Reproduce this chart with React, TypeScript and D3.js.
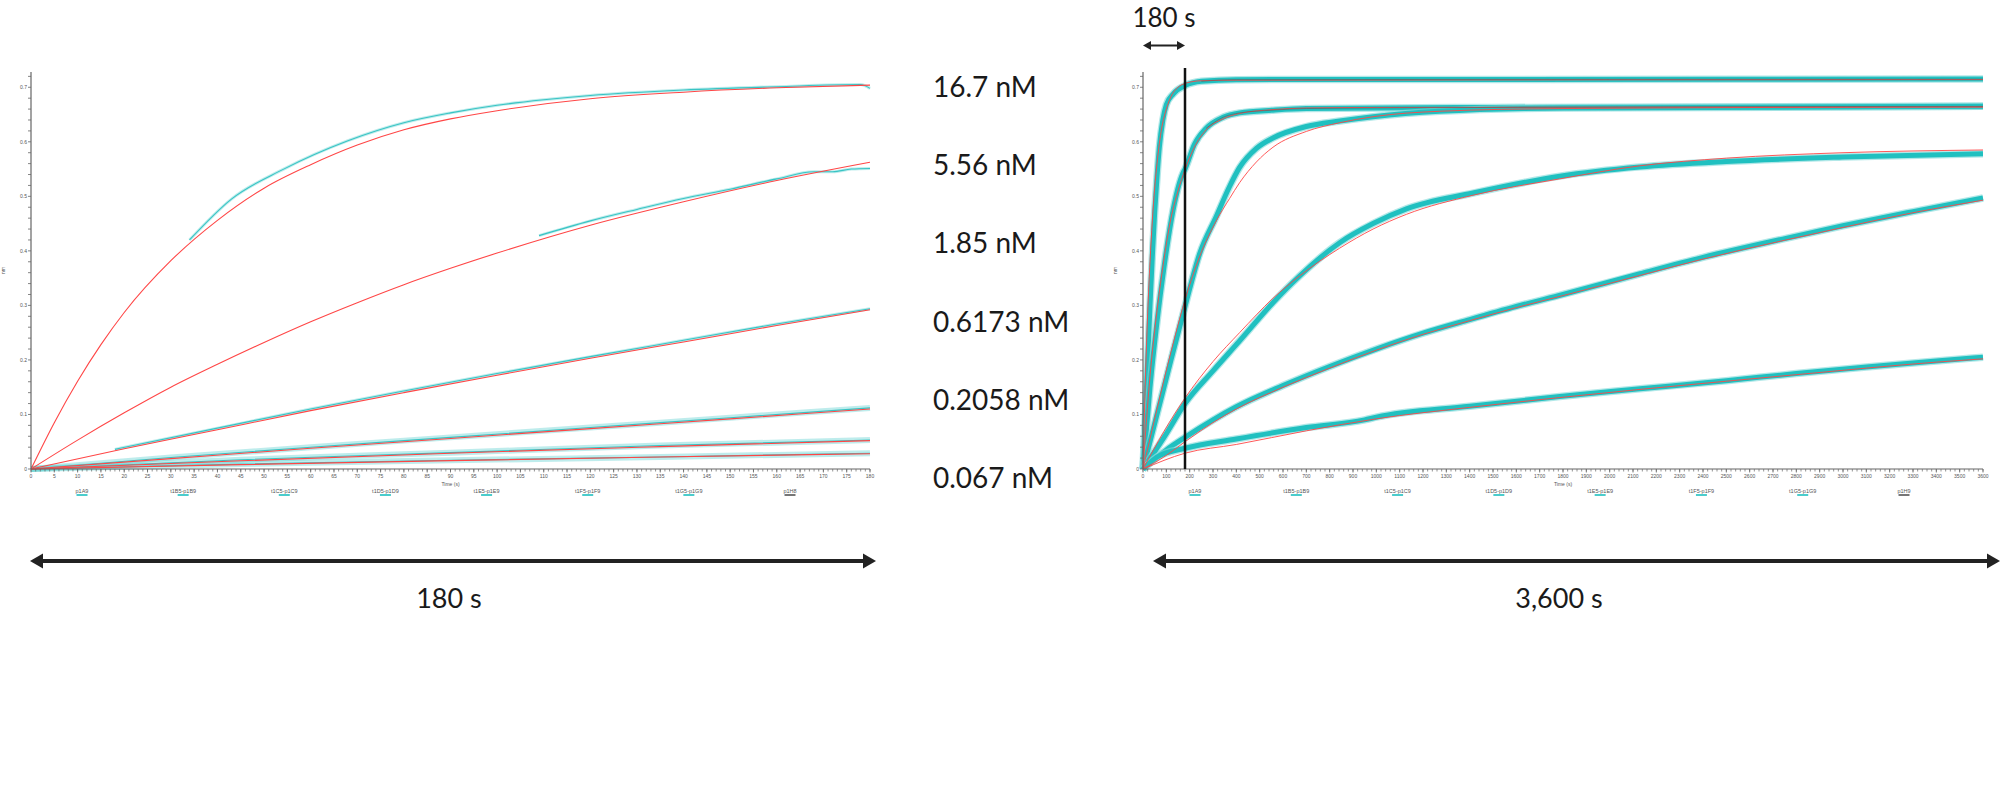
import * as d3 from "d3";

type Pt = [number, number];

// concentration labels, top to bottom
const concentrations = ["16.7 nM", "5.56 nM", "1.85 nM", "0.6173 nM", "0.2058 nM", "0.067 nM"];

const leftLegend = ["p1A9", "t1B5-p1B9", "t1C5-p1C9", "t1D5-p1D9", "t1E5-p1E9", "t1F5-p1F9", "t1G5-p1G9", "p1H8"];
const rightLegend = ["p1A9", "t1B5-p1B9", "t1C5-p1C9", "t1D5-p1D9", "t1E5-p1E9", "t1F5-p1F9", "t1G5-p1G9", "p1H9"];

const yTickValues = [0, 0.1, 0.2, 0.3, 0.4, 0.5, 0.6, 0.7];

// ---- left panel, 0–180 s : fitted curves (red) and measured traces (cyan)
const leftFit16: Pt[] = [[0, 0], [5, 0.085], [10, 0.161], [15, 0.228], [20, 0.287], [30, 0.382], [40, 0.456], [50, 0.515], [60, 0.558], [70, 0.594], [80, 0.622], [90, 0.642], [100, 0.657], [120, 0.679], [140, 0.691], [160, 0.699], [180, 0.704]];
const leftFit5: Pt[] = [[0, 0], [10, 0.053], [20, 0.103], [30, 0.15], [40, 0.192], [50, 0.232], [60, 0.27], [70, 0.305], [80, 0.338], [90, 0.368], [100, 0.396], [120, 0.447], [140, 0.49], [160, 0.529], [180, 0.5625]];
const leftFit1: Pt[] = [[0, 0], [20, 0.037], [40, 0.072], [60, 0.107], [80, 0.14], [100, 0.172], [120, 0.203], [140, 0.233], [160, 0.263], [180, 0.292]];
const leftFit06: Pt[] = [[0, 0], [30, 0.019], [60, 0.038], [90, 0.056], [120, 0.074], [150, 0.092], [180, 0.11]];
const leftFit02: Pt[] = [[0, 0], [45, 0.015], [90, 0.029], [135, 0.041], [180, 0.052]];
const leftFit007: Pt[] = [[0, 0], [45, 0.008], [90, 0.0153], [135, 0.022], [180, 0.028]];

const leftData16: Pt[] = [[34, 0.42], [43, 0.495], [54, 0.549], [68, 0.602], [80, 0.635], [90, 0.653], [100, 0.667], [110, 0.677], [120, 0.685], [140, 0.695], [160, 0.701], [178, 0.705], [180, 0.698]];
const leftData5: Pt[] = [[109, 0.428], [120, 0.455], [130, 0.476], [140, 0.496], [150, 0.513], [160, 0.532], [168, 0.545], [172, 0.545], [176, 0.55], [180, 0.551]];
const leftData1: Pt[] = [[18, 0.036], [40, 0.075], [60, 0.11], [80, 0.143], [100, 0.175], [120, 0.206], [140, 0.236], [160, 0.266], [180, 0.294]];
const leftData06: Pt[] = [[0, 0], [30, 0.021], [60, 0.04], [90, 0.058], [120, 0.076], [150, 0.094], [180, 0.112]];
const leftData02: Pt[] = [[0, 0], [45, 0.017], [90, 0.03], [135, 0.043], [180, 0.053]];
const leftData007: Pt[] = [[0, 0], [45, 0.009], [90, 0.016], [135, 0.022], [180, 0.029]];

// ---- right panel, 0–3600 s
const rightFit16: Pt[] = [[0, 0], [10, 0.16], [20, 0.285], [30, 0.38], [40, 0.455], [50, 0.515], [60, 0.56], [80, 0.625], [100, 0.66], [120, 0.683], [150, 0.7], [180, 0.707], [250, 0.712], [400, 0.713], [3600, 0.714]];
const rightFit5: Pt[] = [[0, 0], [30, 0.17], [60, 0.29], [90, 0.385], [120, 0.46], [150, 0.51], [180, 0.549], [220, 0.59], [271, 0.622], [343, 0.642], [414, 0.652], [557, 0.659], [700, 0.662], [1000, 0.663], [3600, 0.664]];
const rightFit1: Pt[] = [[0, 0], [60, 0.11], [120, 0.215], [180, 0.31], [243, 0.39], [314, 0.455], [371, 0.496], [414, 0.525], [486, 0.563], [557, 0.59], [700, 0.619], [843, 0.635], [986, 0.646], [1271, 0.656], [1800, 0.661], [3600, 0.664]];
const rightFit06: Pt[] = [[0, 0], [90, 0.069], [180, 0.13], [300, 0.197], [414, 0.25], [557, 0.313], [671, 0.354], [843, 0.405], [986, 0.44], [1129, 0.467], [1414, 0.502], [1786, 0.532], [2130, 0.556], [2500, 0.57], [3000, 0.58], [3600, 0.585]];
const rightFit02: Pt[] = [[0, 0], [100, 0.025], [180, 0.05], [300, 0.085], [400, 0.11], [600, 0.15], [800, 0.185], [1000, 0.218], [1200, 0.247], [1400, 0.272], [1600, 0.296], [1800, 0.318], [2130, 0.355], [2400, 0.385], [2755, 0.42], [3000, 0.443], [3300, 0.47], [3600, 0.493]];
const rightFit007: Pt[] = [[0, 0], [180, 0.029], [400, 0.045], [700, 0.07], [1000, 0.092], [1400, 0.113], [1786, 0.131], [2130, 0.146], [2500, 0.161], [2800, 0.173], [3100, 0.185], [3400, 0.196], [3600, 0.202]];

const rightData16: Pt[] = [[0, 0], [10, 0.1], [20, 0.2], [30, 0.3], [40, 0.39], [50, 0.47], [60, 0.535], [70, 0.59], [85, 0.64], [100, 0.668], [130, 0.688], [180, 0.703], [250, 0.711], [400, 0.714], [3600, 0.715]];
const rightData5: Pt[] = [[0, 0], [30, 0.15], [60, 0.27], [90, 0.37], [129, 0.475], [171, 0.5425], [180, 0.55], [220, 0.595], [271, 0.625], [343, 0.645], [414, 0.653], [557, 0.658], [700, 0.661], [1500, 0.663], [3600, 0.665]];
const rightData1: Pt[] = [[0, 0], [60, 0.1], [120, 0.2], [180, 0.298], [243, 0.395], [314, 0.463], [371, 0.518], [414, 0.553], [486, 0.588], [557, 0.607], [700, 0.628], [843, 0.638], [986, 0.646], [1271, 0.656], [1800, 0.662], [3600, 0.665]];
const rightData06: Pt[] = [[0, 0], [90, 0.058], [180, 0.12], [300, 0.18], [414, 0.235], [557, 0.305], [671, 0.354], [843, 0.415], [986, 0.45], [1129, 0.477], [1414, 0.506], [1786, 0.537], [2130, 0.554], [2500, 0.564], [3000, 0.572], [3600, 0.578]];
const rightData02: Pt[] = [[0, 0], [100, 0.035], [180, 0.058], [300, 0.09], [400, 0.114], [600, 0.153], [800, 0.188], [1000, 0.22], [1200, 0.249], [1400, 0.274], [1600, 0.298], [1800, 0.32], [2130, 0.358], [2400, 0.388], [2755, 0.423], [3000, 0.446], [3300, 0.472], [3600, 0.497]];
const rightData007: Pt[] = [[0, 0], [60, 0.022], [180, 0.038], [400, 0.055], [700, 0.076], [950, 0.09], [1000, 0.095], [1400, 0.115], [1786, 0.133], [2130, 0.147], [2500, 0.162], [2800, 0.175], [3100, 0.187], [3400, 0.198], [3600, 0.205]];

const leftFits = [leftFit16, leftFit5, leftFit1, leftFit06, leftFit02, leftFit007];
const leftData = [leftData16, leftData5, leftData1, leftData06, leftData02, leftData007];
const rightFits = [rightFit16, rightFit5, rightFit1, rightFit06, rightFit02, rightFit007];
const rightData = [rightData16, rightData5, rightData1, rightData06, rightData02, rightData007];

const CYAN = "#20c0c0";
const RED = "#ff4646";
const AXIS = "#666";
const TICK_FONT = "'Liberation Sans', Arial, sans-serif";
const BIG_FONT = "Lato, 'Open Sans', sans-serif";

const y = d3.scaleLinear().domain([0, 0.728]).range([469, 72]);
const xLeft = d3.scaleLinear().domain([0, 180]).range([31, 870]);
const xRight = d3.scaleLinear().domain([0, 3600]).range([1143, 1983]);

interface PanelProps {
  x: d3.ScaleLinear<number, number>;
  fits: Pt[][];
  data: Pt[][];
  minorStep: number;
  majorStep: number;
  legend: string[];
  legendRange: [number, number];
  thick: boolean;
}

function Panel({ x, fits, data, minorStep, majorStep, legend, legendRange, thick }: PanelProps) {
  const [d0, d1] = x.domain();
  const [r0, r1] = x.range();
  const line = d3
    .line<Pt>()
    .x((d) => x(d[0]))
    .y((d) => y(d[1]))
    .curve(d3.curveMonotoneX);
  const minorX = d3.range(d0, d1 + 1e-9, minorStep);
  const majorX = d3.range(d0, d1 + 1e-9, majorStep);
  const minorY = d3.range(0, 0.7201, 0.02);
  const legendX = d3.scaleLinear().domain([0, legend.length - 1]).range(legendRange);

  return (
    <g>
      {/* traces */}
      {data.map((pts, i) =>
        thick ? (
          <g key={"d" + i}>
            <path d={line(pts) ?? ""} fill="none" stroke="#7fd9d9" strokeOpacity={0.6} strokeWidth={7.5} strokeLinejoin="round" />
            <path d={line(pts) ?? ""} fill="none" stroke={CYAN} strokeWidth={5} strokeLinejoin="round" />
          </g>
        ) : (
          <g key={"d" + i}>
            <path d={line(pts) ?? ""} fill="none" stroke="#45c9c9" strokeOpacity={0.35} strokeWidth={i >= 3 ? 6 : 3} />
            <path d={line(pts) ?? ""} fill="none" stroke="#38c4c4" strokeWidth={1.1} />
          </g>
        )
      )}
      {fits.map((pts, i) => (
        <path key={"f" + i} d={line(pts) ?? ""} fill="none" stroke={RED} strokeWidth={thick ? 0.9 : 1.1} />
      ))}
      {thick &&
        data.slice(0, 2).map((pts, i) => (
          <path
            key={"g" + i}
            d={line(pts.filter((p) => p[0] >= 250)) ?? ""}
            fill="none"
            stroke="#4f5b5b"
            strokeOpacity={0.6}
            strokeWidth={0.9}
          />
        ))}

      {/* y axis */}
      <line x1={r0} x2={r0} y1={y(0.728)} y2={y(0)} stroke={AXIS} strokeWidth={1.2} />
      {minorY.map((v) => (
        <line key={"my" + v} x1={r0 - 3} x2={r0} y1={y(v)} y2={y(v)} stroke={AXIS} strokeWidth={0.8} />
      ))}
      {yTickValues.map((v) => (
        <text key={"ty" + v} x={r0 - 4} y={y(v) + 1.8} fontSize={5} fill="#555" textAnchor="end" fontFamily={TICK_FONT}>
          {v === 0 ? "0" : v.toFixed(1)}
        </text>
      ))}
      <text
        transform={`translate(${r0 - 26},${y(0.364)}) rotate(-90)`}
        fontSize={5}
        fill="#555"
        textAnchor="middle"
        fontFamily={TICK_FONT}
      >
        nm
      </text>

      {/* x axis */}
      <line x1={r0} x2={r1} y1={y(0)} y2={y(0)} stroke={AXIS} strokeWidth={1.2} />
      {minorX.map((t) => (
        <line key={"mx" + t} x1={x(t)} x2={x(t)} y1={y(0)} y2={y(0) + 2.5} stroke={AXIS} strokeWidth={0.7} />
      ))}
      {majorX.map((t) => (
        <g key={"tx" + t}>
          <line x1={x(t)} x2={x(t)} y1={y(0)} y2={y(0) + 3.5} stroke={AXIS} strokeWidth={0.8} />
          <text x={x(t)} y={y(0) + 9} fontSize={5} fill="#555" textAnchor="middle" fontFamily={TICK_FONT}>
            {t}
          </text>
        </g>
      ))}
      <text x={(r0 + r1) / 2} y={y(0) + 17} fontSize={5} fill="#555" textAnchor="middle" fontFamily={TICK_FONT}>
        Time (s)
      </text>

      {/* plate legend */}
      {legend.map((lab, i) => (
        <g key={"lg" + i}>
          <text x={legendX(i)} y={y(0) + 24} fontSize={5.5} fill="#555" textAnchor="middle" fontFamily={TICK_FONT}>
            {lab}
          </text>
          <rect
            x={legendX(i) - 5.5}
            y={y(0) + 25.2}
            width={11}
            height={1.6}
            fill={i === legend.length - 1 ? "#555" : CYAN}
          />
        </g>
      ))}
    </g>
  );
}

function DoubleArrow({ x1, x2, cy, head, half, width }: { x1: number; x2: number; cy: number; head: number; half: number; width: number }) {
  return (
    <g fill="#222" stroke="none">
      <rect x={x1 + head - 1} y={cy - width / 2} width={x2 - x1 - 2 * head + 2} height={width} />
      <polygon points={`${x1},${cy} ${x1 + head},${cy - half} ${x1 + head},${cy + half}`} />
      <polygon points={`${x2},${cy} ${x2 - head},${cy - half} ${x2 - head},${cy + half}`} />
    </g>
  );
}

export default function App() {
  const labelY = d3.scaleLinear().domain([0, concentrations.length - 1]).range([97, 488]);
  return (
    <svg
      width={2000}
      height={799}
      style={{ position: "absolute", left: 0, top: 0, background: "#fff" }}
    >
      <rect width={2000} height={799} fill="#fff" />
      <Panel
        x={xLeft}
        fits={leftFits}
        data={leftData}
        minorStep={1}
        majorStep={5}
        legend={leftLegend}
        legendRange={[82, 790]}
        thick={false}
      />
      <Panel
        x={xRight}
        fits={rightFits}
        data={rightData}
        minorStep={20}
        majorStep={100}
        legend={rightLegend}
        legendRange={[1195, 1904]}
        thick={true}
      />

      {/* 180 s marker on the long run */}
      <line x1={xRight(180)} x2={xRight(180)} y1={68} y2={y(0)} stroke="#111" strokeWidth={2.5} />
      <DoubleArrow x1={xRight(0)} x2={xRight(180)} cy={45.5} head={8} half={4.5} width={2} />
      <text x={(xRight(0) + xRight(180)) / 2} y={27} fontSize={26} fill="#1a1a1a" textAnchor="middle" fontFamily={BIG_FONT}>
        180 s
      </text>

      {concentrations.map((c, i) => (
        <text key={c} x={933} y={labelY(i)} fontSize={28} fill="#1a1a1a" fontFamily={BIG_FONT}>
          {c}
        </text>
      ))}

      <DoubleArrow x1={xLeft(0) - 1} x2={xLeft(180) + 6} cy={561} head={13} half={7.5} width={4} />
      <text x={449} y={608} fontSize={27} fill="#1a1a1a" textAnchor="middle" fontFamily={BIG_FONT}>
        180 s
      </text>
      <DoubleArrow x1={xRight(0) + 10} x2={2000} cy={561} head={13} half={7.5} width={4} />
      <text x={1559} y={608} fontSize={27} fill="#1a1a1a" textAnchor="middle" fontFamily={BIG_FONT}>
        3,600 s
      </text>
    </svg>
  );
}
